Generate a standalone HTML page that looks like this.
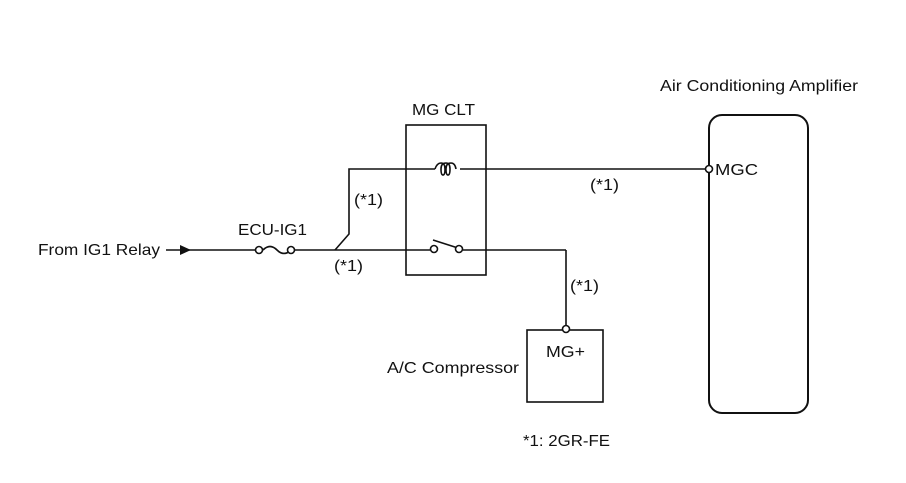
<!DOCTYPE html>
<html><head><meta charset="utf-8"><style>
html,body{margin:0;padding:0;background:#fff;}
svg{display:block;}
text{font-family:"Liberation Sans",Arial,sans-serif;font-size:16px;fill:#111;}
</style></head><body>
<svg width="906" height="483" viewBox="0 0 906 483" xmlns="http://www.w3.org/2000/svg">
<g stroke="#111" stroke-width="1.6" fill="none">
  <line x1="166" y1="250" x2="255" y2="250"/>
  <path d="M263 250 q7 -7 14 0 q7 7 14 0"/>
  <line x1="295" y1="250" x2="430" y2="250"/>
  <line x1="463" y1="250" x2="566" y2="250"/>
  <line x1="566" y1="250" x2="566" y2="326"/>
  <polyline points="335,250 349,234 349,169 435,169"/>
  <line x1="460" y1="169" x2="706" y2="169"/>
  <path d="M435 169 q2 -6 6 -6 q4 0 4 6 q0 6 -2 6 q-2 0 -2 -6 q0 -6 5 -6 q4 0 4 6 q0 6 -2 6 q-2 0 -2 -6 q0 -6 5 -6 q4 0 5 6"/>
  <line x1="433" y1="240" x2="458" y2="248"/>
  <rect x="406" y="125" width="80" height="150"/>
  <rect x="527" y="330" width="76" height="72"/>
  <rect x="709" y="115" width="99" height="298" rx="13" ry="13" stroke-width="2"/>
  <circle cx="259" cy="250" r="3.5" fill="#fff"/>
  <circle cx="291" cy="250" r="3.5" fill="#fff"/>
  <circle cx="434" cy="249" r="3.5" fill="#fff"/>
  <circle cx="459" cy="249" r="3.5" fill="#fff"/>
  <circle cx="709" cy="169" r="3.5" fill="#fff"/>
  <circle cx="566" cy="329" r="3.5" fill="#fff"/>
</g>
<polygon points="180,245 191,250 180,255" fill="#111"/>
<text x="38" y="255" textLength="122" lengthAdjust="spacingAndGlyphs">From IG1 Relay</text>
<text x="238" y="235" textLength="69" lengthAdjust="spacingAndGlyphs">ECU-IG1</text>
<text x="354" y="205" textLength="29" lengthAdjust="spacingAndGlyphs">(*1)</text>
<text x="334" y="271" textLength="29" lengthAdjust="spacingAndGlyphs">(*1)</text>
<text x="590" y="190" textLength="29" lengthAdjust="spacingAndGlyphs">(*1)</text>
<text x="570" y="291" textLength="29" lengthAdjust="spacingAndGlyphs">(*1)</text>
<text x="412" y="115" textLength="63" lengthAdjust="spacingAndGlyphs">MG CLT</text>
<text x="660" y="91" textLength="198" lengthAdjust="spacingAndGlyphs">Air Conditioning Amplifier</text>
<text x="715" y="175" textLength="43" lengthAdjust="spacingAndGlyphs">MGC</text>
<text x="546" y="357" textLength="39" lengthAdjust="spacingAndGlyphs">MG+</text>
<text x="387" y="373" textLength="132" lengthAdjust="spacingAndGlyphs">A/C Compressor</text>
<text x="523" y="446" textLength="87" lengthAdjust="spacingAndGlyphs">*1: 2GR-FE</text>
</svg>
</body></html>
